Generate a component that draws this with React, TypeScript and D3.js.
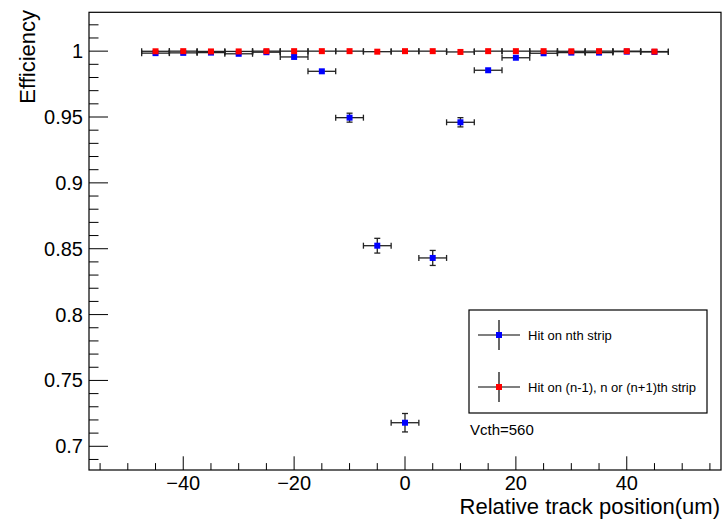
import React from "react";
import * as d3 from "d3";

const xPositions = [-45, -40, -35, -30, -25, -20, -15, -10, -5, 0, 5, 10, 15, 20, 25, 30, 35, 40, 45];
const nthEff = [0.9985, 0.9987, 0.9989, 0.998, 0.9992, 0.9956, 0.9847, 0.9495, 0.8523, 0.7179, 0.843, 0.946, 0.9855, 0.995, 0.9984, 0.9989, 0.9989, 0.9996, 0.9994];
const nthErr = [0.0006, 0.0006, 0.0005, 0.0007, 0.0005, 0.0011, 0.0019, 0.0034, 0.0056, 0.007, 0.0057, 0.0035, 0.0019, 0.0011, 0.0006, 0.0005, 0.0005, 0.0003, 0.0004];
const nbrEff = [0.9999, 1.0, 0.9998, 0.9998, 1.0, 1.0, 1.0, 1.0, 0.9996, 1.0, 1.0, 0.9994, 1.0, 1.0, 1.0, 0.9999, 1.0, 1.0, 0.9997];
const nbrErr = [0.0002, 0.0001, 0.0002, 0.0002, 0.0001, 0.0001, 0.0001, 0.0001, 0.0003, 0.0001, 0.0001, 0.0003, 0.0001, 0.0001, 0.0001, 0.0002, 0.0001, 0.0001, 0.0002];
const xHalfWidth = 2.5;
const yTickLabels = ["0.7", "0.75", "0.8", "0.85", "0.9", "0.95", "1"];
const xTickLabels = ["−40", "−20", "0", "20", "40"];
const xMajor = [-40, -20, 0, 20, 40];
const yMajor = [0.7, 0.75, 0.8, 0.85, 0.9, 0.95, 1.0];
const legendLabels = ["Hit on nth strip", "Hit on (n-1), n or (n+1)th strip"];
const seriesColors = ["#0000ff", "#ff0000"];

const W = 724, H = 521;
const L = 89, R = 721, T = 12.3, B = 470;
const FONT = "'Liberation Sans', Arial, Helvetica, sans-serif";

export default function App() {
  const x = d3.scaleLinear().domain([-57, 57]).range([L, R]);
  const y = d3.scaleLinear().domain([0.682, 1.0295]).range([B, T]);

  const xMinor = d3.range(-55, 55.1, 5);
  const yMinor = d3.range(69, 103, 1).map((v) => v / 100);

  const ms = 6;
  const cap = 3;
  const errColor = "#222";

  const series = [
    { vals: nthEff, errs: nthErr, color: seriesColors[0] },
    { vals: nbrEff, errs: nbrErr, color: seriesColors[1] },
  ];

  return (
    <svg width={W} height={H} style={{ position: "absolute", left: 0, top: 0, display: "block", background: "#fff" }} fontFamily={FONT}>
      <rect x={0} y={0} width={W} height={H} fill="#fff" />
      {yMinor.map((v, i) => {
        const major = yMajor.some((m) => Math.abs(m - v) < 1e-6);
        return <line key={"yt" + i} x1={L} x2={L + (major ? 19 : 9.5)} y1={y(v)} y2={y(v)} stroke="#000" strokeWidth={1} />;
      })}
      {xMinor.map((v, i) => {
        const major = xMajor.some((m) => Math.abs(m - v) < 1e-6);
        return <line key={"xt" + i} x1={x(v)} x2={x(v)} y1={B} y2={B - (major ? 13.7 : 6.9)} stroke="#000" strokeWidth={1} />;
      })}
      {yMajor.map((v, i) => (
        <text key={"yl" + i} x={83} y={y(v) + 7} fontSize={20} textAnchor="end" fill="#000">{yTickLabels[i]}</text>
      ))}
      {xMajor.map((v, i) => (
        <text key={"xl" + i} x={x(v)} y={490} fontSize={20} textAnchor="middle" fill="#000">{xTickLabels[i]}</text>
      ))}
      <text x={720} y={514} fontSize={22} textAnchor="end" fill="#000">Relative track position(um)</text>
      <text transform={`translate(35,10) rotate(-90)`} fontSize={22} textAnchor="end" fill="#000">Efficiency</text>

      {series.map((s, si) => (
        <g key={"s" + si}>
          {xPositions.map((xv, i) => {
            const cx = x(xv), cy = y(s.vals[i]);
            const x0 = x(xv - xHalfWidth), x1 = x(xv + xHalfWidth);
            const yTop = y(s.vals[i] + s.errs[i]), yBot = y(s.vals[i] - s.errs[i]);
            const showV = cy - yTop > ms / 2;
            return (
              <g key={i} stroke={errColor} strokeWidth={1.3}>
                <line x1={x0} x2={x1} y1={cy} y2={cy} />
                <line x1={x0} x2={x0} y1={cy - cap} y2={cy + cap} />
                <line x1={x1} x2={x1} y1={cy - cap} y2={cy + cap} />
                {showV && <line x1={cx} x2={cx} y1={yTop} y2={yBot} />}
                {showV && <line x1={cx - cap} x2={cx + cap} y1={yTop} y2={yTop} />}
                {showV && <line x1={cx - cap} x2={cx + cap} y1={yBot} y2={yBot} />}
              </g>
            );
          })}
          {xPositions.map((xv, i) => (
            <rect key={"m" + i} x={x(xv) - ms / 2} y={y(s.vals[i]) - ms / 2} width={ms} height={ms} fill={s.color} />
          ))}
        </g>
      ))}

      <rect x={L} y={T} width={R - L} height={B - T} fill="none" stroke="#000" strokeWidth={1.2} />

      <rect x={469} y={310} width={238} height={103} fill="#fff" stroke="#000" strokeWidth={1.2} />
      {legendLabels.map((lab, i) => {
        const cy = 335 + i * 52;
        return (
          <g key={"lg" + i}>
            <line x1={478} x2={520} y1={cy} y2={cy} stroke="#000" strokeWidth={1.2} />
            <line x1={499} x2={499} y1={cy - 15} y2={cy + 15} stroke="#000" strokeWidth={1.2} />
            <rect x={499 - ms / 2} y={cy - ms / 2} width={ms} height={ms} fill={seriesColors[i]} />
            <text x={528} y={cy + 5} fontSize={13} fill="#000">{lab}</text>
          </g>
        );
      })}
      <text x={470} y={435} fontSize={15} fill="#000">Vcth=560</text>
    </svg>
  );
}
